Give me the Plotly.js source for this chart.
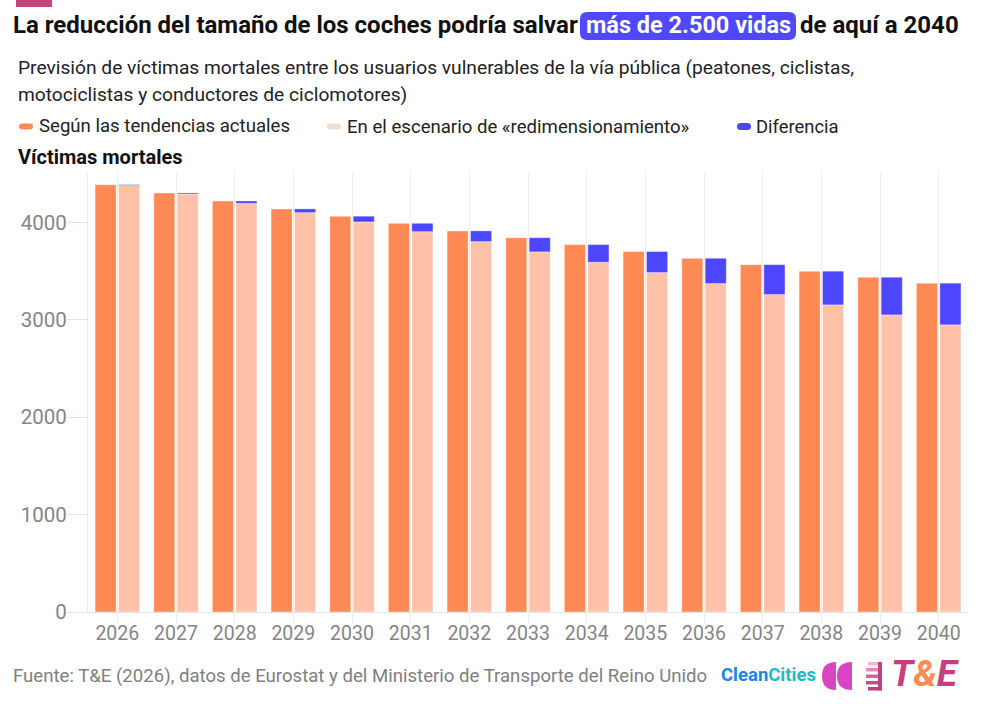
<!DOCTYPE html>
<html>
<head>
<meta charset="utf-8">
<script src="https://cdn.plot.ly/plotly-3.0.1.min.js"></script>
<style>
html,body{margin:0;padding:0;background:#fff;}
#chart{width:982px;height:704px;}
</style>
</head>
<body>
<div id="chart"></div>
<script>
// ---- data ----
const years = ['2026','2027','2028','2029','2030','2031','2032','2033','2034','2035','2036','2037','2038','2039','2040'];
const currentTrend = [4390, 4305, 4222, 4141, 4066, 3993, 3915, 3845, 3774, 3703, 3634, 3568, 3501, 3439, 3378];
const rightsizing = [4381, 4294, 4198, 4103, 4007, 3907, 3805, 3699, 3593, 3487, 3374, 3261, 3155, 3052, 2950];
const difference = [9, 11, 24, 38, 59, 86, 110, 146, 181, 216, 260, 307, 346, 387, 428];
const yTicks = [0, 1000, 2000, 3000, 4000];
const seriesNames = ['Según las tendencias actuales', 'En el escenario de «redimensionamiento»', 'Diferencia'];

// ---- layout helpers (pixel -> paper) ----
const W = 982, H = 704;
const M = {l: 88, r: 14, t: 172, b: 92};
const PW = W - M.l - M.r, PH = H - M.t - M.b;
const xp = px => (px - M.l) / PW;
const yp = py => (H - M.b - py) / PH;

const C_CUR = '#FF8A56', C_SCN = '#FFC2A8', C_DIF = '#4C46FF';
const FONT = 'Roboto, "Noto Sans", sans-serif';

function roundRect(x0, y0, x1, y1, r) {
  const X = xp, Y = yp;
  return 'M' + X(x0 + r) + ',' + Y(y0) +
    ' L' + X(x1 - r) + ',' + Y(y0) +
    ' Q' + X(x1) + ',' + Y(y0) + ' ' + X(x1) + ',' + Y(y0 + r) +
    ' L' + X(x1) + ',' + Y(y1 - r) +
    ' Q' + X(x1) + ',' + Y(y1) + ' ' + X(x1 - r) + ',' + Y(y1) +
    ' L' + X(x0 + r) + ',' + Y(y1) +
    ' Q' + X(x0) + ',' + Y(y1) + ' ' + X(x0) + ',' + Y(y1 - r) +
    ' L' + X(x0) + ',' + Y(y0 + r) +
    ' Q' + X(x0) + ',' + Y(y0) + ' ' + X(x0 + r) + ',' + Y(y0) + ' Z';
}
function rectShape(x0, y0, x1, y1, color) {
  return {type: 'rect', xref: 'paper', yref: 'paper', x0: xp(x0), x1: xp(x1), y0: yp(y1), y1: yp(y0),
          fillcolor: color, line: {width: 0}, layer: 'above'};
}
function pathShape(path, color) {
  return {type: 'path', xref: 'paper', yref: 'paper', path: path, fillcolor: color, line: {width: 0}, layer: 'above'};
}
function ann(text, x, y, opts) {
  return Object.assign({xref: 'paper', yref: 'paper', x: xp(x), y: yp(y), text: text, showarrow: false,
    xanchor: 'left', yanchor: 'middle', font: {family: FONT, size: 19.2, color: '#222'}}, opts || {});
}

const barLine = {color: 'rgba(255,255,255,0.45)', width: 1};
const traces = [
  {type: 'bar', x: years, y: currentTrend, name: seriesNames[0], offsetgroup: 'a',
   marker: {color: C_CUR, line: barLine}, hoverinfo: 'skip'},
  {type: 'bar', x: years, y: rightsizing, name: seriesNames[1], offsetgroup: 'b',
   marker: {color: C_SCN, line: barLine}, hoverinfo: 'skip'},
  {type: 'bar', x: years, y: difference, base: rightsizing, name: seriesNames[2], offsetgroup: 'b',
   marker: {color: C_DIF, line: {color: 'rgba(255,255,255,0.35)', width: 1}}, hoverinfo: 'skip'}
];

function pill(x0, x1, yc, h, color) {
  return pathShape(roundRect(x0, yc - h / 2, x1, yc + h / 2, h / 2), color);
}

const shapes = [
  rectShape(16, 0, 52, 7, '#C4457E'),
  pathShape(roundRect(580, 12, 796, 40, 7), '#4F48FF'),
  pill(19, 33, 126.5, 6, C_CUR),
  pill(327, 341, 126.5, 6, '#F0DDD0'),
  pill(737, 751, 126.5, 7, C_DIF),
  // CleanCities-style double half-discs
  pathShape('M' + xp(836) + ',' + yp(662) + ' Q' + xp(822) + ',' + yp(662) + ' ' + xp(822) + ',' + yp(676) +
            ' Q' + xp(822) + ',' + yp(690) + ' ' + xp(836) + ',' + yp(690) + ' Z', '#D944C2'),
  pathShape('M' + xp(852) + ',' + yp(662) + ' Q' + xp(837) + ',' + yp(662) + ' ' + xp(837) + ',' + yp(676) +
            ' Q' + xp(837) + ',' + yp(690) + ' ' + xp(852) + ',' + yp(690) + ' Z', '#D944C2'),
  // T&E stripes
  rectShape(868, 662, 882, 665.5, '#F6B3CF'),
  rectShape(866, 668, 882, 671.5, '#EA86B1'),
  rectShape(866, 674.5, 882, 678, '#DB5F98'),
  rectShape(866, 681, 882, 684.5, '#CF4A89'),
  rectShape(868, 687, 882, 690.5, '#C4407E'),
  rectShape(878, 662, 882, 690.5, '#C4407E')
];

const annotations = [
  ann('<b>La reducción del tamaño de los coches podría salvar</b>', 11, 25, {font: {family: FONT, size: 24, color: '#111'}}),
  ann('<b>más de 2.500 vidas</b>', 688, 25, {xanchor: 'center', font: {family: FONT, size: 23.5, color: '#fff'}}),
  ann('<b>de aquí a 2040</b>', 798, 25, {font: {family: FONT, size: 24, color: '#111'}}),
  ann('Previsión de víctimas mortales entre los usuarios vulnerables de la vía pública (peatones, ciclistas,', 16, 67),
  ann('motociclistas y conductores de ciclomotores)', 16, 94),
  ann(seriesNames[0], 37, 126, {font: {family: FONT, size: 18.6, color: '#222'}}),
  ann(seriesNames[1], 345, 127, {font: {family: FONT, size: 18.6, color: '#222'}}),
  ann(seriesNames[2], 754, 126, {font: {family: FONT, size: 18.4, color: '#222'}}),
  ann('<b>Víctimas mortales</b>', 16, 157, {font: {family: FONT, size: 20, color: '#111'}}),
  ann('Fuente: T&E (2026), datos de Eurostat y del Ministerio de Transporte del Reino Unido', 11, 676,
      {font: {family: FONT, size: 18.6, color: '#808080'}}),
  ann('<b><span style="color:#1E86E0">Clean</span><span style="color:#22B8CF">Cities</span></b>', 719, 675,
      {font: {family: FONT, size: 18.5, color: '#1E86E0'}}),
  ann('<b><i><span style="color:#C4407E">T</span><span style="color:#FF8A56">&amp;</span><span style="color:#C4407E">E</span></i></b>', 889, 673,
      {font: {family: FONT, size: 37, color: '#C4407E'}})
];

const layout = {
  width: W, height: H,
  margin: M,
  paper_bgcolor: '#fff', plot_bgcolor: '#fff',
  showlegend: false,
  barmode: 'group', bargap: 0.2, bargroupgap: 0.1,
  font: {family: FONT, color: '#222'},
  xaxis: {
    type: 'category', showgrid: true, gridcolor: '#ececec', gridwidth: 1,
    ticks: 'outside', ticklen: 10, tickcolor: '#ececec', tickwidth: 1,
    showline: true, linecolor: '#e3e3e3', linewidth: 1, ticklabelstandoff: -6,
    tickfont: {family: FONT, size: 19.5, color: '#858585'}, fixedrange: true
  },
  yaxis: {
    range: [0, 4520], tickvals: yTicks, ticktext: yTicks.map(String),
    showgrid: false, zeroline: false,
    ticks: 'outside', ticklen: 20, tickcolor: '#e3e3e3', tickwidth: 1,
    showline: true, linecolor: '#ececec', linewidth: 1, ticklabelstandoff: -4,
    tickfont: {family: FONT, size: 20.5, color: '#858585'}, fixedrange: true
  },
  shapes: shapes,
  annotations: annotations
};

Plotly.newPlot('chart', traces, layout, {displayModeBar: false, staticPlot: true});
</script>
</body>
</html>
